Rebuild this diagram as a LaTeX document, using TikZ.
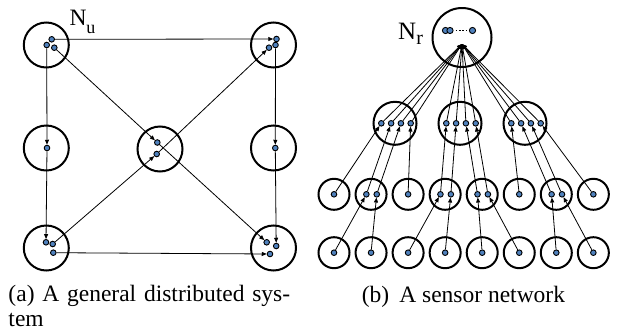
\documentclass[tikz,border=0pt]{standalone}
\usepackage{fontspec}
\setmainfont{Liberation Serif}
\usetikzlibrary{arrows.meta}
\definecolor{dotblue}{RGB}{79,129,189}
\tikzset{
  bigc/.style={circle, draw, line width=2pt, inner sep=0pt, minimum size=#1},
  dot/.style={circle, draw, line width=0.9pt, fill=dotblue, inner sep=0pt, minimum size=5.6pt},
  conn/.style={line width=0.8pt, -{Triangle[length=5pt,width=4pt]}},
  lbl/.style={anchor=base west, inner sep=0pt},
}
\begin{document}
\begin{tikzpicture}[x=1pt,y=-1pt]
\useasboundingbox (0,0) rectangle (627,335);
% ---------------- (a) ----------------
\node[bigc=45pt] (TL) at (46.3,45) {};
\node[bigc=45pt] (TR) at (273.5,45) {};
\node[bigc=45pt] (ML) at (46.3,148) {};
\node[bigc=45pt] (C)  at (160,149) {};
\node[bigc=45pt] (MR) at (273.5,148) {};
\node[bigc=45pt] (BL) at (46.3,248) {};
\node[bigc=45pt] (BR) at (273.5,248) {};
\node[dot] (a1) at (51.7,39.3) {};
\node[dot] (a2) at (46.7,45) {};
\node[dot] (a3) at (54.3,47.7) {};
\node[dot] (b1) at (276.5,39) {};
\node[dot] (b2) at (275.5,45) {};
\node[dot] (b3) at (269,47.7) {};
\node[dot] (mlD) at (47,148) {};
\node[dot] (mrD) at (275.3,148) {};
\node[dot] (cUp) at (157.3,142.5) {};
\node[dot] (cLow) at (156.7,154) {};
\node[dot] (d1) at (46,242.3) {};
\node[dot] (d2) at (52.7,244) {};
\node[dot] (d3) at (53.3,252.7) {};
\node[dot] (e1) at (266.7,242.3) {};
\node[dot] (e2) at (276.2,246) {};
\node[dot] (e3) at (270,254) {};
\foreach \p/\q in {a1/b1, a2/mlD, mlD/d1, a3/cUp, d2/cLow, cLow/b3, cUp/e1, b2/mrD, mrD/e2, d3/e3}
  \draw[conn] (\p) -- (\q);
\node[lbl, font=\fontsize{23.5}{24}\selectfont] (Nu) at (69.3,25.7) {N\raisebox{-7.6pt}{\fontsize{18}{18}\selectfont u}};
% ---------------- (b) ----------------
\node[bigc=59pt] (T) at (462,37.5) {};
\node[dot, minimum size=6.2pt] (t1) at (445.5,30.5) {};
\node[dot, minimum size=6.2pt] (t2) at (450,30.5) {};
\node[dot, minimum size=6.2pt] (t3) at (472.5,30.5) {};
\draw[line width=1.6pt, dash pattern=on 1.6pt off 1.8pt, shorten <=2pt, shorten >=2pt] (t2) -- (t3);
\coordinate (hub) at (462,44);
\node[lbl, font=\fontsize{25}{26}\selectfont] (Nr) at (398,39.5) {N\raisebox{-5pt}{\fontsize{20}{20}\selectfont r}};
\foreach \i/\cx in {1/395,2/460,3/525} {
  \node[bigc=43pt] (R\i) at (\cx,123.3) {};
  \foreach \j/\o in {1/-14.7,2/-4.9,3/4.9,4/14.7}
    \node[dot] (r\i\j) at ({\cx+1+\o},123.3) {};
}
\foreach \k in {1,...,8} {
  \pgfmathsetmacro\xx{334+37.05*(\k-1)}
  \node[bigc=31pt] (S\k) at (\xx,194.3) {};
  \node[bigc=31pt] (U\k) at (\xx,252.7) {};
  \node[dot] (u\k) at (\xx,252.7) {};
}
\foreach \k in {1,3,6,8}
  \node[dot] (s\k-a) at (S\k) {};
\foreach \k in {2,4,5,7} {
  \node[dot, xshift=-4.7pt] (s\k-a) at (S\k) {};
  \node[dot, xshift=5.7pt] (s\k-b) at (S\k) {};
}
\foreach \p/\q in {u1/s2-a, u2/s2-b, u3/s4-a, u4/s4-b, u5/s5-a, u6/s5-b, u7/s7-a, u8/s7-b,
  s1-a/r11, s2-a/r12, s2-b/r13, s3-a/r14, s4-a/r21, s4-b/r22, s5-a/r23, s5-b/r24,
  s6-a/r31, s7-a/r32, s7-b/r33, s8-a/r34}
  \draw[conn] (\p) -- (\q);
\foreach \i in {1,2,3}
  \foreach \j in {1,...,4}
    \draw[conn] (r\i\j) -- (hub);
% ---------------- captions ----------------
\node[lbl, font=\fontsize{23.5}{25}\selectfont] (capa1) at (8.3,301.7) {\makebox[281.7pt][s]{(a) A general distributed sys-}};
\node[lbl, font=\fontsize{23.5}{25}\selectfont] (capa2) at (8.3,326.7) {tem};
\node[lbl, font=\fontsize{23.5}{25}\selectfont] (capb) at (361.7,302.5) {(b)\hspace{10pt}A sensor network};
\end{tikzpicture}
\end{document}
